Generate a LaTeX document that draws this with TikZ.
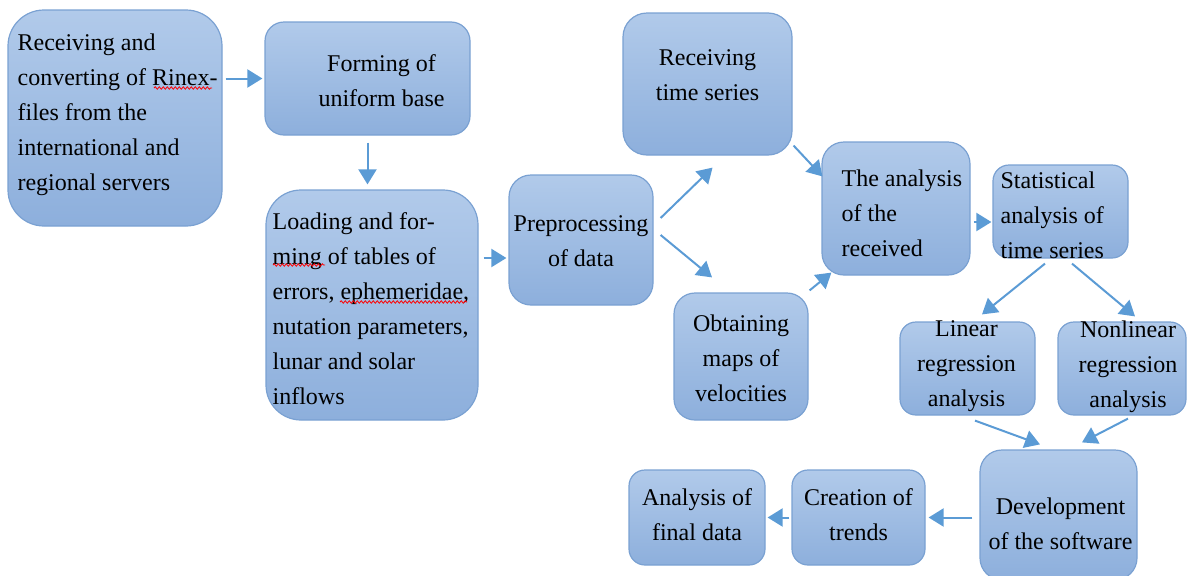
\documentclass[tikz,border=0pt]{standalone}
\usepackage{fontspec}
\setmainfont{Liberation Serif}
\usetikzlibrary{arrows.meta,calc,decorations.pathmorphing}
\definecolor{topc}{HTML}{B1CAEA}
\definecolor{botc}{HTML}{8DAFDC}
\definecolor{bordc}{HTML}{7AA1D2}
\definecolor{arrc}{HTML}{5B9BD5}
\begin{document}
\begin{tikzpicture}[x=1pt,y=-1pt,
  box/.style={draw=bordc, line width=1.2pt, top color=topc, bottom color=botc, inner sep=0pt},
  txt/.style={inner sep=0pt, font=\fontsize{24}{35}\selectfont, text=black},
  arr/.style={draw=arrc, line width=2pt, -{Triangle[length=15pt,width=18pt]}},
  squig/.style={draw=red, line width=0.8pt, decorate, decoration={snake, amplitude=1.2pt, segment length=4pt}}]
\clip (0,0) rectangle (1187,576);
% boxes
\node[box, rounded corners=36pt, minimum width=214pt, minimum height=216pt] (b1) at (115,118) {};
\node[box, rounded corners=19pt, minimum width=205pt, minimum height=113pt] (b2) at (367.5,78.5) {};
\node[box, rounded corners=35pt, minimum width=212pt, minimum height=230pt] (b3) at (372,305) {};
\node[box, rounded corners=22pt, minimum width=144pt, minimum height=130pt] (pre) at (581,240) {};
\node[box, rounded corners=24pt, minimum width=169pt, minimum height=142pt] (rts) at (707.5,84) {};
\node[box, rounded corners=21pt, minimum width=134pt, minimum height=127pt] (obt) at (741,356.5) {};
\node[box, rounded corners=22pt, minimum width=148pt, minimum height=133pt] (ana) at (896,208.5) {};
\node[box, rounded corners=16pt, minimum width=135pt, minimum height=93pt] (sta) at (1060.5,211.5) {};
\node[box, rounded corners=16pt, minimum width=135pt, minimum height=93pt] (lin) at (967.5,368.5) {};
\node[box, rounded corners=16pt, minimum width=128pt, minimum height=93pt] (non) at (1122,368.5) {};
\node[box, rounded corners=22pt, minimum width=157pt, minimum height=130pt] (dev) at (1058.5,515) {};
\node[box, rounded corners=16pt, minimum width=133pt, minimum height=95pt] (cre) at (858.5,517.5) {};
\node[box, rounded corners=16pt, minimum width=136pt, minimum height=95pt] (fin) at (697,517.5) {};
% texts
\node[txt, align=left, anchor=west] (t1) at ([xshift=10pt,yshift=3pt]b1.west) {Receiving and\\converting of Rinex-\\files from the\\international and\\regional servers};
\node[txt, align=center] (t2) at ([xshift=14pt,yshift=-2pt]b2.center) {Forming of\\uniform base};
\node[txt, align=left, anchor=west] (t3) at ([xshift=7pt,yshift=-4pt]b3.west) {Loading and for-\\ming of tables of\\errors, ephemeridae,\\nutation parameters,\\lunar and solar\\inflows};
\node[txt, align=center] (tpre) at ([yshift=-1pt]pre.center) {Preprocessing\\of data};
\node[txt, align=center] (trts) at ([yshift=9pt]rts.center) {Receiving\\time series};
\node[txt, align=center] (tobt) at ([yshift=-2pt]obt.center) {Obtaining\\maps of\\velocities};
\node[txt, align=left, anchor=west] (tana) at ([xshift=20pt,yshift=-5pt]ana.west) {The analysis\\of the\\received};
\node[txt, align=left, anchor=west] (tsta) at ([xshift=8pt,yshift=-3.5pt]sta.west) {Statistical\\analysis of\\time series};
\node[txt, align=center] (tlin) at ([xshift=-1pt,yshift=2pt]lin.center) {Linear\\regression\\analysis};
\node[txt, align=center] (tnon) at ([xshift=6pt,yshift=2pt]non.center) {Nonlinear\\regression\\analysis};
\node[txt, align=center] (tdev) at ([xshift=2pt,yshift=-9pt]dev.center) {Development\\of the software};
\node[txt, align=center] (tcre) at ([yshift=3pt]cre.center) {Creation of\\trends};
\node[txt, align=center] (tfin) at ([yshift=3pt]fin.center) {Analysis of\\final data};
% spell-check squiggles
\draw[squig] (154,88) -- (212,88);
\draw[squig] (273,265) -- (325,265);
\draw[squig] (340,302) -- (467,302);
% connectors
\coordinate (p3) at ([yshift=-18pt]pre.west);
\coordinate (ps) at ([yshift=-10.5pt]sta.west);
\draw[arr, shorten <=3pt, shorten >=2pt] (b1.east |- b2.west) -- (b2.west);
\draw[arr, shorten <=7pt, shorten >=5pt] (b2.south) -- (b2.south |- b3.north);
\draw[arr, shorten <=5pt, shorten >=2pt] (b3.east |- p3) -- (p3);
\draw[arr] ([xshift=7pt,yshift=22pt]pre.east) -- ([xshift=5pt,yshift=-12pt]rts.south);
\draw[arr] ([xshift=7pt,yshift=5pt]pre.east) -- ([xshift=-29pt,yshift=15pt]obt.north);
\draw[arr] ([xshift=1pt,yshift=10pt]rts.south east) -- ([xshift=1pt,yshift=-35pt]ana.north west);
\draw[arr] ([xshift=1pt,yshift=2pt]obt.north east) -- ([xshift=10pt,yshift=3pt]ana.south west);
\draw[arr, shorten <=3pt, shorten >=1pt] (ana.east |- ps) -- (ps);
\draw[arr] ([xshift=-15.5pt,yshift=-5pt]sta.south) -- ([xshift=14.5pt,yshift=7pt]lin.north);
\draw[arr] ([xshift=11.5pt,yshift=-5pt]sta.south) -- ([xshift=13pt,yshift=5pt]non.north);
\draw[arr] ([xshift=7.5pt,yshift=-5pt]lin.south) -- ([xshift=-18.5pt,yshift=5pt]dev.north);
\draw[arr] ([xshift=6pt,yshift=-3pt]non.south) -- ([xshift=23.5pt,yshift=7pt]dev.north);
\draw[arr, shorten <=7pt, shorten >=3pt] (dev.west |- cre.east) -- (cre.east);
\draw[arr, shorten <=2pt, shorten >=2pt] (cre.west) -- (fin.east);
\end{tikzpicture}
\end{document}
